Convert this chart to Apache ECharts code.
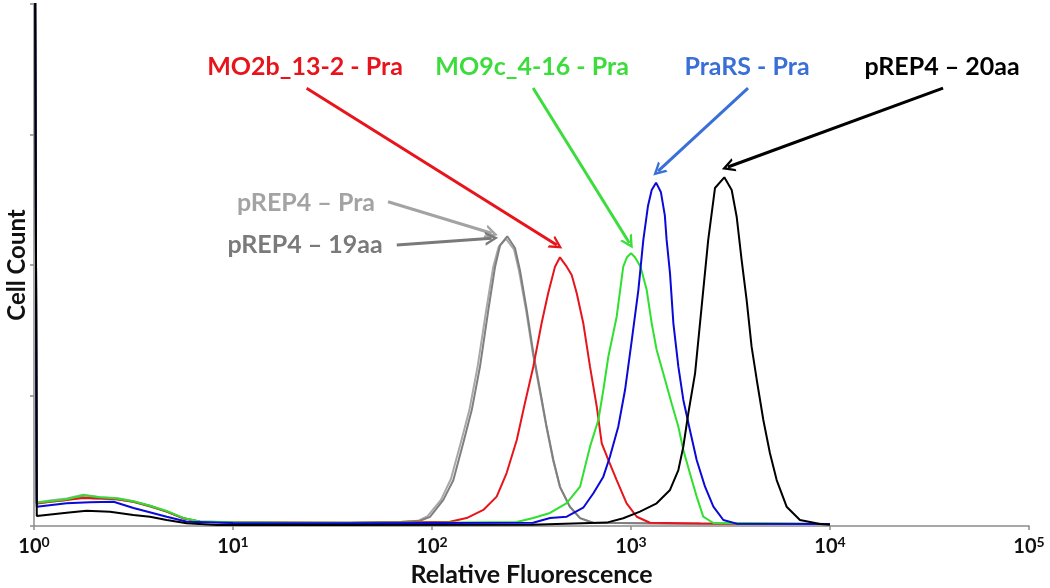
<!DOCTYPE html>
<html><head><meta charset="utf-8">
<script src="https://cdn.jsdelivr.net/npm/echarts@6/dist/echarts.min.js"></script>
<style>html,body{margin:0;padding:0;background:#fff}#c{width:1050px;height:588px}</style>
</head><body><div id="c"></div>
<script>
// x values are log10(Relative Fluorescence), y values are cell counts
const xTickExponents = [0, 1, 2, 3, 4, 5];
const seriesNames = ['pREP4 – Pra', 'pREP4 – 19aa', 'MO2b_13-2 - Pra', 'MO9c_4-16 - Pra', 'PraRS - Pra', 'pREP4 – 20aa'];

const grayLight = [[0.005,450],[0.014,18],[0.08,19.5],[0.164,21],[0.248,24],[0.332,22],[0.416,21.5],[0.499,19],[0.583,15.5],[0.667,11],[0.75,6],[0.834,3.5],[1.0,2.8],[1.3,2.5],[1.6,2.5],[1.84,3],[1.93,4],[1.978,7.5],[2.045,20],[2.095,36],[2.145,64],[2.188,89],[2.229,122],[2.272,165],[2.307,198],[2.335,214],[2.372,220],[2.412,212],[2.438,195],[2.473,165],[2.507,132],[2.541,104],[2.575,76],[2.609,50],[2.643,30],[2.693,14.5],[2.744,6],[2.81,2.5],[3.2,2],[4,1.5]];
const grayDark = [[0.005,450],[0.014,17],[0.08,18.5],[0.164,20],[0.23,22.5],[0.3,21],[0.416,20.5],[0.499,18.5],[0.583,15],[0.667,11],[0.75,6],[0.834,3.3],[1.0,2.7],[1.3,2.3],[1.6,2.4],[1.84,3],[1.94,4],[1.99,7],[2.057,20],[2.107,35],[2.157,63.6],[2.2,89],[2.241,122],[2.283,165.5],[2.317,198.7],[2.342,215],[2.378,222],[2.417,213],[2.442,196],[2.476,165.5],[2.509,132.6],[2.543,104],[2.576,76],[2.61,50.6],[2.643,30],[2.693,14.8],[2.744,6],[2.809,2.5],[3.2,2],[4,1.5]];
const red = [[0.005,450],[0.014,17.4],[0.08,18.6],[0.164,19.9],[0.248,21.5],[0.332,21.2],[0.416,20.5],[0.499,18.6],[0.583,15.3],[0.667,11],[0.75,5.9],[0.834,3.3],[1.0,2.7],[1.3,2.6],[1.6,2.5],[1.9,2.8],[2.09,3.3],[2.174,6.1],[2.258,12.3],[2.325,22.5],[2.375,40.6],[2.426,65.9],[2.467,94.3],[2.509,122.1],[2.551,155.6],[2.584,178.5],[2.618,198.7],[2.643,205.9],[2.677,198.7],[2.702,192.3],[2.727,178.5],[2.76,155.6],[2.794,122.1],[2.828,91.4],[2.853,63.4],[2.886,50.6],[2.928,35.2],[2.978,17.4],[3.029,7.1],[3.095,2.5],[3.35,2],[4,1.5]];
const green = [[0.005,450],[0.014,18],[0.08,19],[0.164,20.5],[0.248,23.5],[0.332,22],[0.416,21],[0.499,19],[0.583,15.5],[0.667,11.5],[0.75,6.2],[0.834,3.4],[1.0,2.8],[1.3,2.5],[1.6,2.4],[2.0,2.5],[2.426,3],[2.509,6.1],[2.593,10],[2.677,17.6],[2.744,30.1],[2.794,60.8],[2.836,81.2],[2.861,104.2],[2.886,129.7],[2.928,160.4],[2.961,198.7],[2.98,206],[3.0,209],[3.02,206],[3.048,198.7],[3.079,180.8],[3.104,155.3],[3.129,134.9],[3.162,117],[3.204,94],[3.238,76.1],[3.263,58.2],[3.296,40.4],[3.33,22.5],[3.363,7.2],[3.414,2.3],[4,1.5]];
const blue = [[0.005,450],[0.014,14.8],[0.164,17.4],[0.28,18.2],[0.4,18.6],[0.5,13.8],[0.667,7.1],[0.77,3.3],[1.0,2.3],[1.5,2.2],[2.0,2.3],[2.508,2.5],[2.593,6.1],[2.677,7.1],[2.76,14],[2.811,25.1],[2.861,37.8],[2.894,53.1],[2.936,76.1],[2.97,104.2],[3.004,142.5],[3.037,180.8],[3.062,219.2],[3.085,245],[3.104,257.5],[3.126,263.1],[3.15,256],[3.17,238],[3.179,219.2],[3.196,193.6],[3.213,155.3],[3.238,122.1],[3.263,96.6],[3.296,73.6],[3.33,50.6],[3.372,30.1],[3.414,14.8],[3.464,4.6],[3.531,1.8],[4,1.5]];
const black = [[0.005,450],[0.014,7.7],[0.164,10.2],[0.264,11.7],[0.382,11],[0.499,8.4],[0.583,7.1],[0.667,4.6],[0.767,2.1],[0.918,0.8],[1.5,0.8],[2.5,0.9],[2.878,2.6],[2.961,5.9],[3.045,11],[3.129,17.4],[3.196,27.6],[3.238,42.9],[3.263,60.8],[3.288,86.4],[3.322,117],[3.355,168.1],[3.388,219.2],[3.422,259],[3.469,267.2],[3.506,257.5],[3.531,237],[3.556,203.8],[3.581,173.2],[3.606,137.4],[3.632,111.9],[3.665,81.2],[3.698,55.9],[3.732,35.2],[3.782,14.8],[3.849,4.6],[3.95,1.5],[4.0,1]];

const curves = [grayLight, grayDark, red, green, blue, black];
const lineColors = ['#a8a8a8', '#7f7f7f', '#e8141b', '#2fe02f', '#0a0ad8', '#000000'];
const noteColors = ['#a3a3a3', '#7a7a7a', '#e8141b', '#3ddc3d', '#3a6fd8', '#000000'];
// annotation anchors in data space: text position, arrow start, arrow tip
const noteText = [[1.367,247.5],[1.362,215.3],[1.362,351.7],[2.503,351.7],[3.583,351.7],[4.563,351.7]];
const arrowFrom = [[1.779,248.5],[1.823,215.3],[1.370,335.4],[2.508,335.6],[3.588,335.6],[4.568,335.6]];
const arrowTo = [[2.300,224.3],[2.300,220.5],[2.627,215.3],[2.992,216.9],[3.136,272.0],[3.487,275.1]];

const FONT = 'Lato';
const chevron = 'path://M0,12 L7,0 L14,12 L11.4,12 L7,4.6 L2.6,12 Z';

const series = curves.map((d, i) => ({
  name: seriesNames[i], type: 'line', data: d, showSymbol: false, symbol: 'none',
  clip: true, lineStyle: { color: lineColors[i], width: 2 }, itemStyle: { color: lineColors[i] },
  z: 2 + i,
  markLine: {
    silent: true, animation: false,
    symbol: ['none', chevron], symbolSize: [14, 13],
    lineStyle: { color: noteColors[i], width: 3, type: 'solid' },
    label: { show: false },
    data: [[{ coord: arrowFrom[i] }, { coord: arrowTo[i] }]]
  },
  markPoint: {
    silent: true, animation: false, symbol: 'circle', symbolSize: 1,
    itemStyle: { color: 'rgba(0,0,0,0)' },
    label: { show: true, position: 'inside', formatter: seriesNames[i], color: noteColors[i],
      fontFamily: FONT, fontWeight: 'bold', fontSize: 25 },
    data: [{ coord: noteText[i] }]
  }
}));

const chart = echarts.init(document.getElementById('c'), null, { renderer: 'canvas' });
chart.setOption({
  animation: false,
  backgroundColor: '#ffffff',
  grid: { left: 34, right: 21, top: 4, bottom: 62, containLabel: false, outerBoundsMode: 'none' },
  xAxis: {
    type: 'value', min: 0, max: 5, interval: 1,
    name: 'Relative Fluorescence', nameLocation: 'middle', nameGap: 36,
    nameTextStyle: { fontFamily: FONT, fontWeight: 'bold', fontSize: 25, color: '#111' },
    axisLine: { lineStyle: { color: '#8c8c8c', width: 1.5 } },
    axisTick: { show: true, length: 4, lineStyle: { color: '#8c8c8c', width: 1.5 } },
    splitLine: { show: false },
    axisLabel: {
      margin: 9,
      formatter: v => xTickExponents.includes(v) ? '{b|10}{s|' + v + '}' : '',
      rich: {
        b: { fontFamily: FONT, fontWeight: 'bold', fontSize: 20, color: '#111', lineHeight: 24 },
        s: { fontFamily: FONT, fontWeight: 'bold', fontSize: 14, color: '#111', lineHeight: 14, verticalAlign: 'top' }
      }
    }
  },
  yAxis: {
    type: 'value', min: 0, max: 400, interval: 100,
    name: 'Cell Count', nameLocation: 'middle', nameGap: 5, nameRotate: 90,
    nameTextStyle: { fontFamily: FONT, fontWeight: 'bold', fontSize: 24, color: '#111' },
    axisLine: { show: true, lineStyle: { color: '#8c8c8c', width: 1.5 } },
    axisTick: { show: true, length: 4, lineStyle: { color: '#8c8c8c', width: 1.5 } },
    axisLabel: { show: false },
    splitLine: { show: false }
  },
  series: series
});
</script></body></html>
